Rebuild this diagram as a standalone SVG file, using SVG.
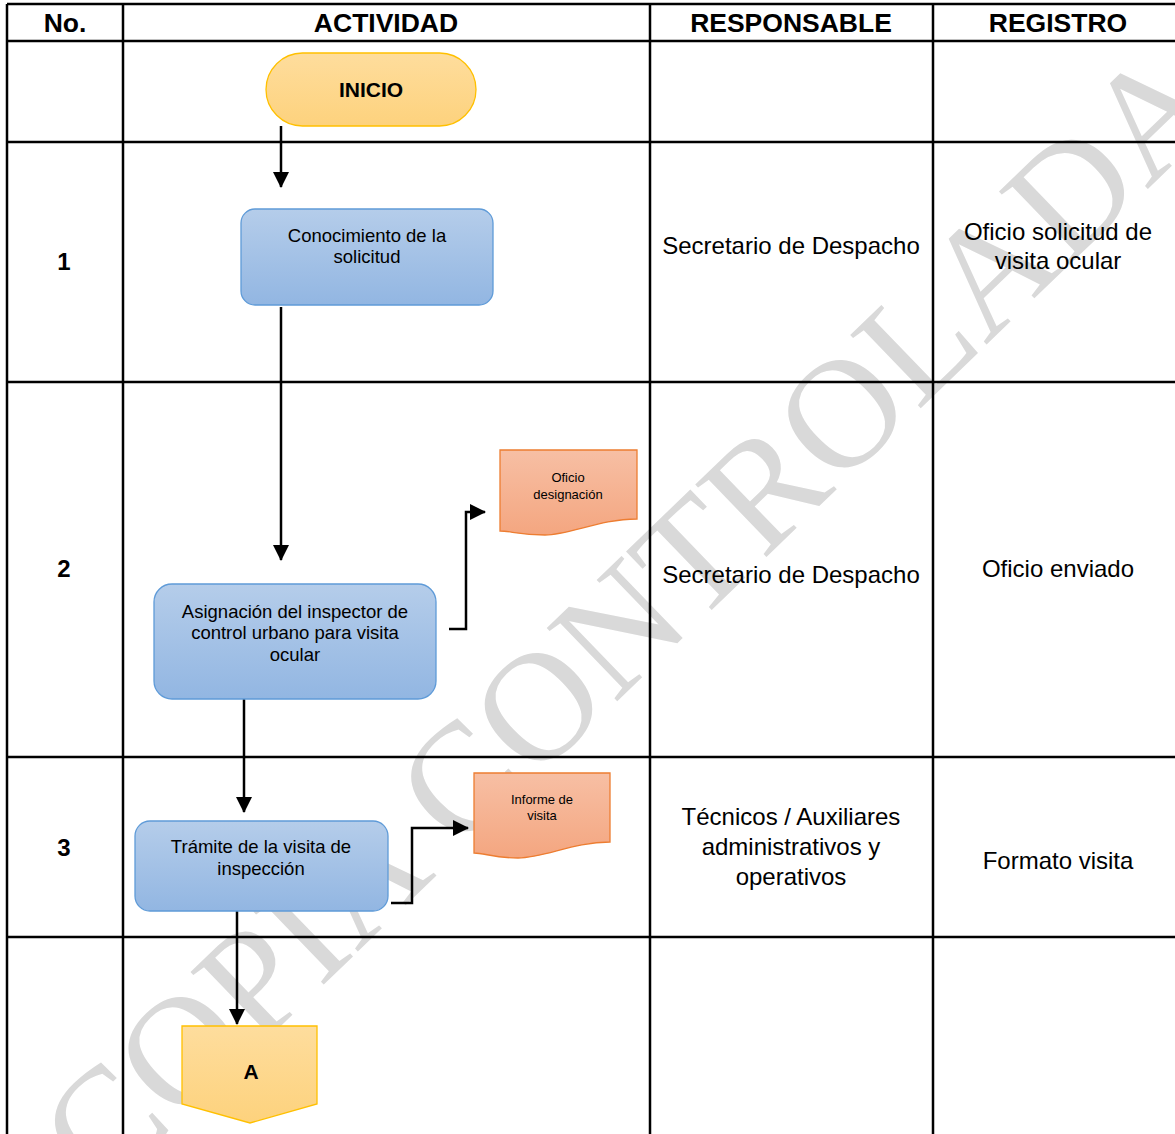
<svg xmlns="http://www.w3.org/2000/svg" width="1175" height="1134" viewBox="0 0 1175 1134">
<style>
.grid{stroke:#000;stroke-width:2.5;fill:none}
.hdr{font-family:"Liberation Sans",Arial,sans-serif;font-weight:bold;font-size:26.5px;fill:#000;text-anchor:middle}
.num{font-family:"Liberation Sans",Arial,sans-serif;font-weight:bold;font-size:24px;fill:#000;text-anchor:middle}
.cell{font-family:"Liberation Sans",Arial,sans-serif;font-size:24px;fill:#000;text-anchor:middle}
.box{font-family:"Liberation Sans",Arial,sans-serif;font-size:18.5px;fill:#000;text-anchor:middle}
.doc{font-family:"Liberation Sans",Arial,sans-serif;font-size:13px;fill:#000;text-anchor:middle}
.term{font-family:"Liberation Sans",Arial,sans-serif;font-weight:bold;font-size:21px;fill:#000;text-anchor:middle}
.blue{fill:url(#gBlue);stroke:#5f9bd8;stroke-width:1.3}
.yel{fill:url(#gYel);stroke:#ffc000;stroke-width:1.3}
.org{fill:url(#gOrg);stroke:#ed7d31;stroke-width:1.3}
.conn{stroke:#000;stroke-width:2.5;fill:none}
.wm{font-family:"Liberation Serif","Times New Roman",serif;font-size:155px;fill:#d9d9d9}
</style>
<defs>
<linearGradient id="gBlue" x1="0" y1="0" x2="0" y2="1"><stop offset="0" stop-color="#b5cdea"/><stop offset="1" stop-color="#92b6e2"/></linearGradient>
<linearGradient id="gYel" x1="0" y1="0" x2="0" y2="1"><stop offset="0" stop-color="#fedd9d"/><stop offset="1" stop-color="#fdd27d"/></linearGradient>
<linearGradient id="gOrg" x1="0" y1="0" x2="0" y2="1"><stop offset="0" stop-color="#f7bfa4"/><stop offset="1" stop-color="#f4a680"/></linearGradient>
<marker id="arr" markerUnits="userSpaceOnUse" markerWidth="16" markerHeight="16" viewBox="0 0 16 16" refX="15" refY="8" orient="auto"><path d="M0,0 L16,8 L0,16 Z" fill="#000"/></marker>
</defs>
<rect x="0" y="0" width="1175" height="1134" fill="#fff"/>
<g id="watermark">
<text class="wm" transform="translate(665,655) rotate(-44)" text-anchor="middle">COPIA CONTROLADA</text>
</g>
<g id="table">
<path class="grid" d="M7,4 H1175 M7,41 H1175 M7,142 H1175 M7,382 H1175 M7,757 H1175 M7,937 H1175 M7,4 V1134 M123,4 V1134 M650,4 V1134 M933,4 V1134"/>
<text class="hdr" x="65" y="32">No.</text>
<text class="hdr" x="386" y="32">ACTIVIDAD</text>
<text class="hdr" x="791" y="32">RESPONSABLE</text>
<text class="hdr" x="1058" y="32">REGISTRO</text>
<text class="num" x="64" y="270">1</text>
<text class="num" x="64" y="577">2</text>
<text class="num" x="64" y="856">3</text>
<text class="cell" x="791" y="254">Secretario de Despacho</text>
<text class="cell" x="1058" y="240">Oficio solicitud de</text>
<text class="cell" x="1058" y="269">visita ocular</text>
<text class="cell" x="791" y="583">Secretario de Despacho</text>
<text class="cell" x="1058" y="577">Oficio enviado</text>
<text class="cell" x="791" y="825">Técnicos / Auxiliares</text>
<text class="cell" x="791" y="855">administrativos y</text>
<text class="cell" x="791" y="885">operativos</text>
<text class="cell" x="1058" y="869">Formato visita</text>
</g>
<g id="connectors">
<path class="conn" d="M281,126 V187" marker-end="url(#arr)"/>
<path class="conn" d="M281,307 V560" marker-end="url(#arr)"/>
<path class="conn" d="M449,629 H466 V512 H485" marker-end="url(#arr)"/>
<path class="conn" d="M244,699 V812" marker-end="url(#arr)"/>
<path class="conn" d="M391,903 H412 V828 H468" marker-end="url(#arr)"/>
<path class="conn" d="M237,911 V1024" marker-end="url(#arr)"/>
</g>
<g id="inicio">
<rect class="yel" x="266" y="53" width="210" height="73" rx="36.5"/>
<text class="term" x="371" y="97">INICIO</text>
</g>
<g id="n1">
<rect class="blue" x="241" y="209" width="252" height="96" rx="14"/>
<text class="box" x="367" y="242" font-size="17.5">Conocimiento de la</text>
<text class="box" x="367" y="263" font-size="17.5">solicitud</text>
</g>
<g id="n2">
<rect class="blue" x="154" y="584" width="282" height="115" rx="18"/>
<text class="box" x="295" y="618">Asignación del inspector de</text>
<text class="box" x="295" y="639">control urbano para visita</text>
<text class="box" x="295" y="661">ocular</text>
</g>
<g id="doc1">
<path class="org" d="M500,450 H637 V519 C600,519 570,535 545,535 C520,535 510,531 500,531 Z"/>
<text class="doc" x="568" y="482">Oficio</text>
<text class="doc" x="568" y="499">designación</text>
</g>
<g id="n3">
<rect class="blue" x="135" y="821" width="253" height="90" rx="15"/>
<text class="box" x="261" y="853">Trámite de la visita de</text>
<text class="box" x="261" y="875">inspección</text>
</g>
<g id="doc2">
<path class="org" d="M474,773 H610 V842 C573,842 545,858 518,858 C495,858 484,853 474,853 Z"/>
<text class="doc" x="542" y="804">Informe de</text>
<text class="doc" x="542" y="820">visita</text>
</g>
<g id="connA">
<path class="yel" d="M182,1026 H317 V1104 L250,1123 L182,1104 Z"/>
<text class="term" x="251" y="1079" font-size="22">A</text>
</g>
</svg>
